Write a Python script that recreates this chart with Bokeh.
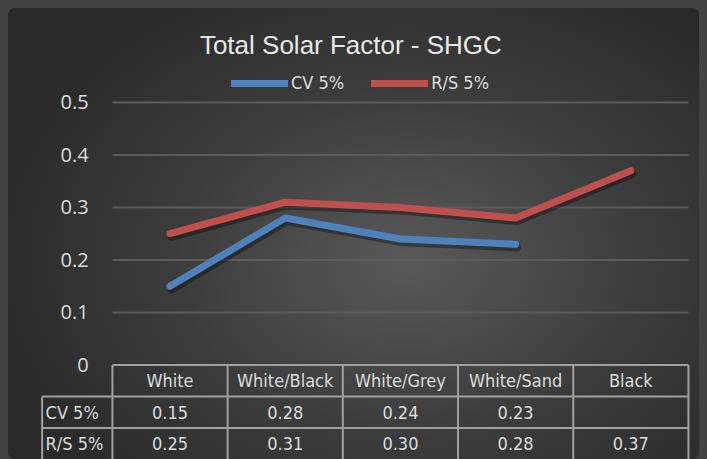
import math
from bokeh.plotting import figure
from bokeh.models import ColumnDataSource, Range1d, Legend, LegendItem, Label
from bokeh.transform import dodge
from bokeh.core.properties import value
from bokeh.embed import file_html
from bokeh.resources import INLINE

# ---- data ----
categories = ["White", "White/Black", "White/Grey", "White/Sand", "Black"]
cv_5 = [0.15, 0.28, 0.24, 0.23, float("nan")]
rs_5 = [0.25, 0.31, 0.30, 0.28, 0.37]
series_names = ["CV 5%", "R/S 5%"]
y_ticks = [0, 0.1, 0.2, 0.3, 0.4, 0.5]
y_tick_labels = ["0", "0.1", "0.2", "0.3", "0.4", "0.5"]
title_text = "Total Solar Factor - SHGC"

# ---- style ----
BLUE = "#4f81bd"
RED = "#c0504d"
TEXT = "#dcdcdc"
GRID = "#5c5c5c"
TABLE_LINE = "#a0a0a0"
NARROW = "'DejaVu Sans Condensed', 'Liberation Sans'"
FS = "18px"
row_h = 0.06
label_col_w = 0.61

n = len(categories)
xs = list(range(n))

p = figure(width=691, height=451, output_backend="svg", toolbar_location=None,
           x_range=Range1d(-1.402, 4.596), y_range=Range1d(-0.18, 0.679),
           x_axis_type=None, y_axis_type=None, min_border=0)
p.grid.visible = False
p.outline_line_color = None
p.background_fill_alpha = 0
p.border_fill_alpha = 0
p.styles = {
    "background": "radial-gradient(ellipse 62% 70% at 58% 56%, #595959 0%, #3c3c3c 55%, #2a2a2a 100%)",
    "border-radius": "6px",
}

# grid lines at tick values (above 0)
grid_y = [t for t in y_ticks if t > 0]
p.segment(x0=[-0.5] * len(grid_y), x1=[n - 0.5] * len(grid_y), y0=grid_y, y1=grid_y,
          line_color=GRID, line_width=2)

# y tick labels
p.text(x=[-0.707] * len(y_ticks), y=y_ticks, text=y_tick_labels,
       text_font=value("Open Sans"), text_font_size="20px", text_color=TEXT,
       text_align="right", text_baseline="middle")

# lines
src = ColumnDataSource(dict(x=xs, cv=cv_5, rs=rs_5))
for col in ("cv", "rs"):
    p.line(x=dodge("x", 0.015), y=dodge(col, -0.006), source=src, line_color="black",
           line_alpha=0.35, line_width=8, line_cap="round", line_join="round")
r_cv = p.line(x="x", y="cv", source=src, line_color=BLUE, line_width=7,
              line_cap="round", line_join="round")
r_rs = p.line(x="x", y="rs", source=src, line_color=RED, line_width=7,
              line_cap="round", line_join="round")

# legend
legend = Legend(items=[LegendItem(label=series_names[0], renderers=[r_cv]),
                       LegendItem(label=series_names[1], renderers=[r_rs])],
                orientation="horizontal", location=(223, 366),
                glyph_width=57, glyph_height=20, label_height=20, label_standoff=3,
                spacing=27, padding=0, margin=0,
                background_fill_alpha=0, border_line_color=None,
                label_text_font=NARROW, label_text_font_size=FS,
                label_text_color=TEXT)
p.add_layout(legend)

# title
p.add_layout(Label(x=1.57, y=0.609, text=title_text, text_align="center",
                   text_baseline="middle", text_font="Liberation Sans",
                   text_font_size="26px", text_color="#e8e8e8"))

# ---- data table ----
bounds = [i - 0.5 for i in range(n + 1)]
bottom = -3 * row_h
left = -0.5 - label_col_w
# vertical lines
p.segment(x0=bounds, x1=bounds, y0=[0] * len(bounds), y1=[bottom] * len(bounds),
          line_color=TABLE_LINE, line_width=2)
p.segment(x0=[left], x1=[left], y0=[-row_h], y1=[bottom], line_color=TABLE_LINE, line_width=2)
# horizontal lines
p.segment(x0=[-0.5, left, left], x1=[n - 0.5] * 3, y0=[0, -row_h, -2 * row_h],
          y1=[0, -row_h, -2 * row_h], line_color=TABLE_LINE, line_width=2)

# header
p.text(x=xs, y=[-row_h / 2] * n, text=categories, text_font=value(NARROW),
       text_font_size=FS, text_color=TEXT, text_align="center", text_baseline="middle")
# series rows
for k, vals in enumerate([cv_5, rs_5]):
    yc = -(k + 1.5) * row_h
    tx = [x for x, v in zip(xs, vals) if not math.isnan(v)]
    tt = [f"{v:.2f}" for v in vals if not math.isnan(v)]
    p.text(x=tx, y=[yc] * len(tx), text=tt, text_font=value(NARROW), text_font_size=FS,
           text_color=TEXT, text_align="center", text_baseline="middle")
    p.text(x=[left + 0.03], y=[yc], text=[series_names[k]], text_font=value(NARROW),
           text_font_size=FS, text_color=TEXT, text_align="left", text_baseline="middle")

html = file_html(p, INLINE)
html = html.replace("</head>", "<style>html,body{background:#434343;margin:0;padding:0;}body{padding:8px;box-sizing:border-box;}</style></head>", 1)
open("out.html", "w").write(html)
